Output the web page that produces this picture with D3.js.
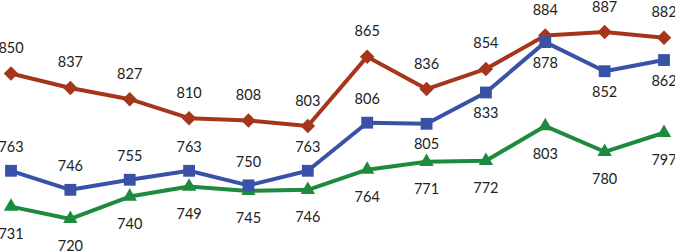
<!DOCTYPE html>
<html><head><meta charset="utf-8">
<script src="https://cdn.jsdelivr.net/npm/d3@7"></script>
<style>html,body{margin:0;padding:0;background:#fff;overflow:hidden}</style>
</head><body>
<svg id="c" width="675" height="252"></svg>
<script>
const categories = [1,2,3,4,5,6,7,8,9,10,11,12];
const redValues = [850,837,827,810,808,803,865,836,854,884,887,882];
const blueValues = [763,746,755,763,750,763,806,805,833,878,852,862];
const greenValues = [731,720,740,749,745,746,764,771,772,803,780,797];
const blueLabelPos = ["above","above","above","above","above","above","above","below","below","below","below","below"];

const svg = d3.select("#c");
const x = d3.scalePoint().domain(categories).range([11, 664]);
const y = d3.scaleLinear().domain([700, 900]).range([241.3, 17.5]);

const series = [
  {vals: redValues, color: "#A5361C", sym: d3.symbolSquare, size: 105, rot: 45, off: () => -26},
  {vals: greenValues, color: "#1E8A3D", sym: d3.symbolTriangle, size: 90, rot: 0, off: () => 27},
  {vals: blueValues, color: "#3A51A8", sym: d3.symbolSquare, size: 140, rot: 0, off: (i) => blueLabelPos[i] === "above" ? -24 : 20}
];

const line = d3.line().x((d,i) => x(categories[i])).y(d => y(d));

series.forEach(s => {
  const g = svg.append("g");
  g.append("path").datum(s.vals).attr("d", line)
    .attr("fill", "none").attr("stroke", s.color).attr("stroke-width", 4).attr("stroke-linejoin", "round");
  g.selectAll("path.m").data(s.vals).join("path").attr("class", "m")
    .attr("d", d3.symbol().type(s.sym).size(s.size))
    .attr("transform", (d,i) => `translate(${x(categories[i])},${y(d)}) rotate(${s.rot})`)
    .attr("fill", s.color);
});

series.forEach(s => {
  svg.append("g").selectAll("text").data(s.vals).join("text")
    .attr("x", (d,i) => x(categories[i]))
    .attr("y", (d,i) => y(d) + s.off(i))
    .attr("text-anchor", "middle").attr("dominant-baseline", "central")
    .attr("font-family", "Lato, 'Open Sans', sans-serif").attr("font-size", 14.5)
    .attr("fill", "#222")
    .text(d => d);
});
</script>
</body></html>
